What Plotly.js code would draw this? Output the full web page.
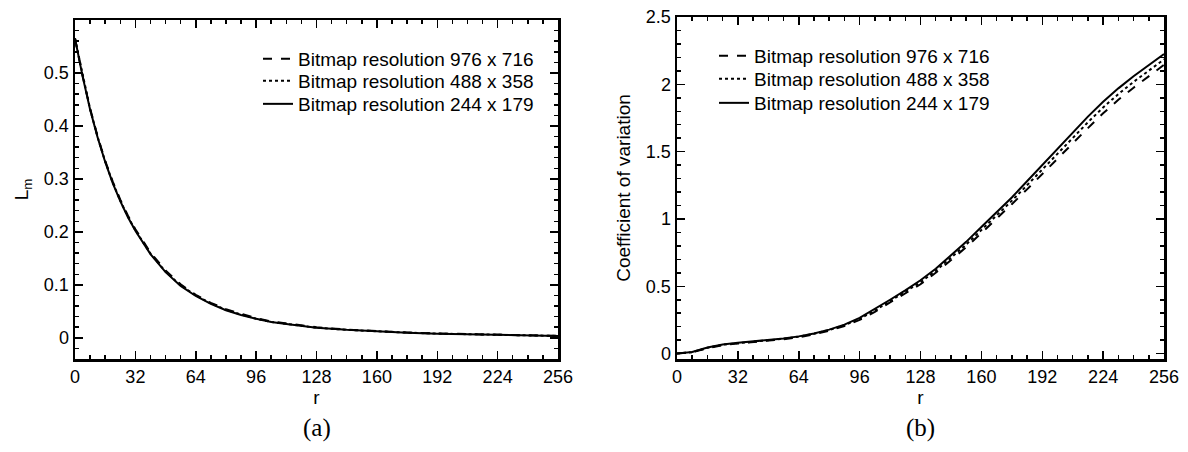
<!DOCTYPE html>
<html>
<head>
<meta charset="utf-8">
<script src="https://cdn.plot.ly/plotly-3.0.1.min.js"></script>
<style>html,body{margin:0;padding:0;background:#fff;}#chart{width:1188px;height:452px;}</style>
</head>
<body>
<div id="chart"></div>
<script>
// ---- data ----
const seriesNames = ["Bitmap resolution 976 x 716", "Bitmap resolution 488 x 358", "Bitmap resolution 244 x 179"];

// (a) L_m vs r
const rA = [0, 4, 8, 12, 16, 20, 24, 28, 32, 40, 48, 56, 64, 72, 80, 88, 96, 104, 112, 120, 128, 144, 160, 176, 192, 208, 224, 240, 256];
const lm976 = [0.565, 0.495, 0.433, 0.380, 0.334, 0.295, 0.261, 0.231, 0.205, 0.161, 0.127, 0.101, 0.081, 0.066, 0.054, 0.045, 0.037, 0.031, 0.027, 0.023, 0.020, 0.0155, 0.0123, 0.0100, 0.0082, 0.0067, 0.0056, 0.0046, 0.0036];
const lm488 = [0.565, 0.495, 0.432, 0.379, 0.333, 0.293, 0.259, 0.229, 0.203, 0.159, 0.125, 0.099, 0.080, 0.065, 0.053, 0.044, 0.036, 0.030, 0.026, 0.022, 0.019, 0.015, 0.0121, 0.0098, 0.0080, 0.0066, 0.0055, 0.0045, 0.0035];
const lm244 = [0.565, 0.494, 0.431, 0.378, 0.332, 0.292, 0.258, 0.228, 0.202, 0.158, 0.124, 0.098, 0.079, 0.064, 0.052, 0.043, 0.036, 0.030, 0.026, 0.022, 0.019, 0.015, 0.0120, 0.0097, 0.0079, 0.0065, 0.0054, 0.0044, 0.0034];

// (b) coefficient of variation vs r
const rB = [0, 8, 16, 24, 32, 40, 48, 56, 64, 72, 80, 88, 96, 104, 112, 120, 128, 136, 144, 152, 160, 168, 176, 184, 192, 200, 208, 216, 224, 232, 240, 248, 256];
const cv976 = [0, 0.010, 0.040, 0.063, 0.075, 0.085, 0.095, 0.107, 0.122, 0.143, 0.170, 0.205, 0.250, 0.310, 0.380, 0.450, 0.515, 0.600, 0.695, 0.790, 0.895, 1.000, 1.110, 1.220, 1.335, 1.450, 1.560, 1.675, 1.785, 1.885, 1.975, 2.060, 2.145];
const cv488 = [0, 0.011, 0.043, 0.066, 0.078, 0.088, 0.098, 0.110, 0.126, 0.147, 0.175, 0.211, 0.258, 0.320, 0.390, 0.460, 0.530, 0.615, 0.713, 0.810, 0.918, 1.025, 1.135, 1.250, 1.368, 1.485, 1.600, 1.718, 1.828, 1.928, 2.018, 2.100, 2.185];
const cv244 = [0, 0.012, 0.045, 0.068, 0.080, 0.090, 0.100, 0.112, 0.128, 0.150, 0.178, 0.215, 0.265, 0.330, 0.400, 0.470, 0.545, 0.630, 0.730, 0.830, 0.940, 1.050, 1.160, 1.280, 1.400, 1.520, 1.640, 1.760, 1.870, 1.970, 2.060, 2.140, 2.225];

const xTicks = [0, 32, 64, 96, 128, 160, 192, 224, 256];
const yTicksA = [0, 0.1, 0.2, 0.3, 0.4, 0.5];
const yTicksB = [0, 0.5, 1, 1.5, 2, 2.5];

// ---- styling ----
const FONT = "Liberation Sans, Arial, Helvetica, sans-serif";
const dashes = ["dash", "dot", "solid"];
const W = 1188, H = 452;

function trace(x, y, i, xa, ya, leg) {
  return {
    x: x, y: y, type: "scatter", mode: "lines",
    name: seriesNames[i], xaxis: xa, yaxis: ya, legend: leg,
    line: {color: "#000", width: 2, dash: dashes[i]}
  };
}

// one legend per entry so that the row spacing can match the reference
const data = [
  trace(rA, lm976, 0, "x", "y", "legend"),
  trace(rA, lm488, 1, "x", "y", "legend2"),
  trace(rA, lm244, 2, "x", "y", "legend3"),
  trace(rB, cv976, 0, "x2", "y2", "legend4"),
  trace(rB, cv488, 1, "x2", "y2", "legend5"),
  trace(rB, cv244, 2, "x2", "y2", "legend6")
];

const minorTick = {ticks: "inside", ticklen: 4, tickwidth: 1.5, tickcolor: "#000"};
function axisBase() {
  return {
    showline: true, linecolor: "#000", linewidth: 2.5, mirror: "allticks",
    ticks: "inside", ticklen: 8, tickwidth: 1.5, tickcolor: "#000",
    showgrid: false, zeroline: false,
    tickfont: {family: FONT, size: 18, color: "#000"}
  };
}
const titleFont = {family: FONT, size: 19, color: "#000"};

const xa1 = Object.assign(axisBase(), {
  domain: [75 / W, 558 / W], anchor: "y", range: [0, 256],
  tickvals: xTicks, ticktext: xTicks.map(String),
  minor: Object.assign({dtick: 8, tick0: 0}, minorTick),
  title: {text: "r", standoff: 4, font: titleFont}
});
const ya1 = Object.assign(axisBase(), {
  domain: [(H - 359) / H, (H - 20) / H], anchor: "x", range: [-0.04, 0.6],
  tickvals: yTicksA, ticktext: yTicksA.map(String),
  minor: Object.assign({dtick: 0.02, tick0: 0}, minorTick),
  title: {text: "L<sub>m</sub>", standoff: 10, font: titleFont}
});
const xa2 = Object.assign(axisBase(), {
  domain: [677 / W, 1164 / W], anchor: "y2", range: [0, 256],
  tickvals: xTicks, ticktext: xTicks.map(String),
  minor: Object.assign({dtick: 8, tick0: 0}, minorTick),
  title: {text: "r", standoff: 4, font: titleFont}
});
const ya2 = Object.assign(axisBase(), {
  domain: [(H - 359) / H, (H - 17) / H], anchor: "x2", range: [-0.04, 2.5],
  tickvals: yTicksB, ticktext: yTicksB.map(String),
  minor: Object.assign({dtick: 0.1, tick0: 0}, minorTick),
  title: {text: "Coefficient of variation", standoff: 10, font: titleFont}
});

function leg(xPx, topPx) {
  return {
    x: xPx / W, y: (H - topPx) / H,
    font: {family: FONT, size: 19, color: "#000"},
    bgcolor: "rgba(0,0,0,0)", borderwidth: 0,
    xanchor: "left", yanchor: "top", itemwidth: 30
  };
}

const layout = {
  width: W, height: H,
  margin: {l: 0, r: 0, t: 0, b: 0},
  paper_bgcolor: "#fff", plot_bgcolor: "#fff",
  showlegend: true,
  xaxis: xa1, yaxis: ya1, xaxis2: xa2, yaxis2: ya2,
  legend: leg(258, 40), legend2: leg(258, 62), legend3: leg(258, 85),
  legend4: leg(714, 37), legend5: leg(714, 60), legend6: leg(714, 84),
  annotations: [
    {text: "(a)", xref: "paper", yref: "paper", x: 317 / W, y: (H - 428) / H, xanchor: "center", yanchor: "middle",
     showarrow: false, font: {family: "Liberation Serif, Times New Roman, serif", size: 25, color: "#000"}},
    {text: "(b)", xref: "paper", yref: "paper", x: 920 / W, y: (H - 428) / H, xanchor: "center", yanchor: "middle",
     showarrow: false, font: {family: "Liberation Serif, Times New Roman, serif", size: 25, color: "#000"}}
  ]
};

Plotly.newPlot("chart", data, layout, {staticPlot: true, displayModeBar: false});
</script>
</body>
</html>
